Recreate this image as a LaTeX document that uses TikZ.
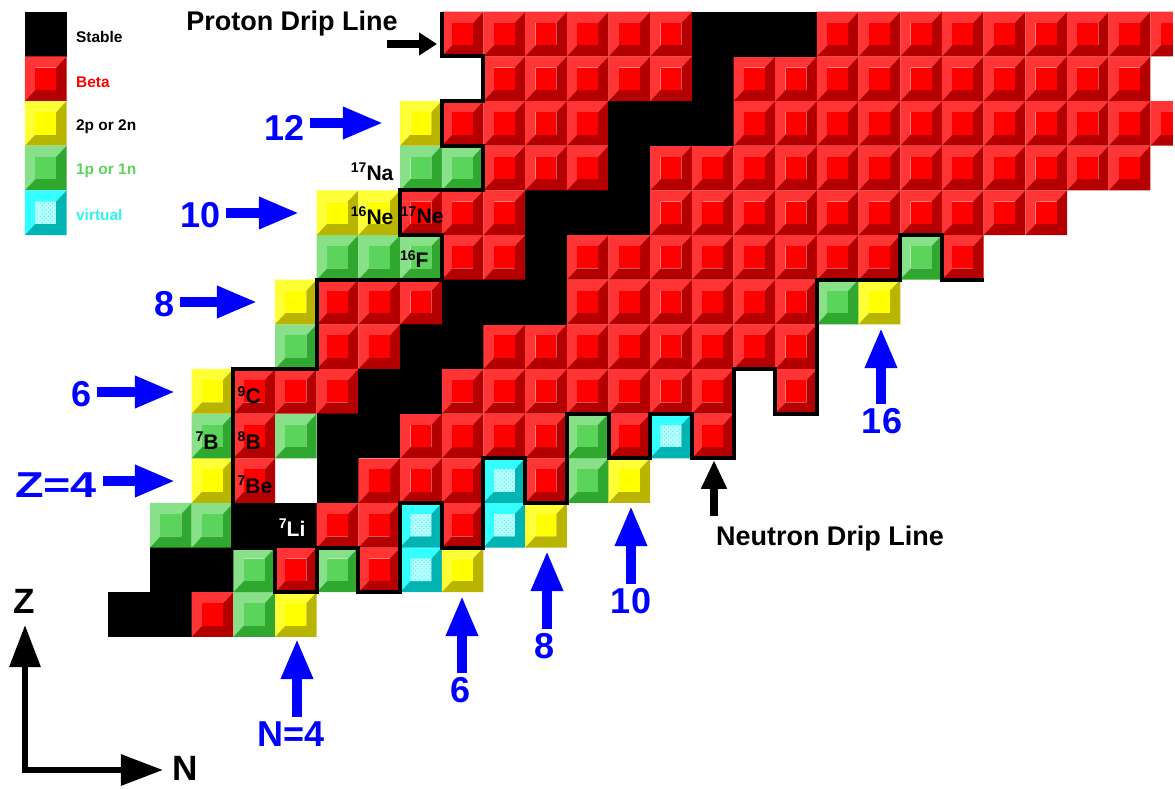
\documentclass[tikz,border=0pt]{standalone}
\usepackage{fontspec}
\setmainfont{Liberation Sans}
\usetikzlibrary{arrows.meta,patterns}

% cell colours: face, light bevel, dark bevel
\definecolor{betafc}{HTML}{FF0000}
\definecolor{betalt}{HTML}{FF3535}
\definecolor{betadk}{HTML}{B40000}
\definecolor{twofc}{HTML}{FFFF00}
\definecolor{twolt}{HTML}{FFFF35}
\definecolor{twodk}{HTML}{B8B400}
\definecolor{onefc}{HTML}{5AD45A}
\definecolor{onelt}{HTML}{88E088}
\definecolor{onedk}{HTML}{30A830}
\definecolor{virfc}{HTML}{BFFFFF}
\definecolor{virlt}{HTML}{33FFFF}
\definecolor{virdk}{HTML}{00B4B4}
\definecolor{magicblue}{HTML}{0000FF}

% bevelled cell: column, row, colour prefix
\newcommand{\decaycell}[3]{%
  \fill[#3lt] (#1,#2) -- (#1,#2+1) -- (#1+1,#2+1) -- (#1+0.75,#2+0.75) -- (#1+0.25,#2+0.75) -- (#1+0.25,#2+0.25) -- cycle;
  \fill[#3dk] (#1,#2) -- (#1+1,#2) -- (#1+1,#2+1) -- (#1+0.75,#2+0.75) -- (#1+0.75,#2+0.25) -- (#1+0.25,#2+0.25) -- cycle;
  \fill[#3fc] (#1+0.25,#2+0.25) rectangle (#1+0.75,#2+0.75);}
\newcommand{\virtcell}[2]{%
  \decaycell{#1}{#2}{vir}
  \fill[pattern=crosshatch dots, pattern color=virlt] (#1+0.25,#2+0.25) rectangle (#1+0.75,#2+0.75);}
\newcommand{\stablecell}[2]{\fill[black] (#1-0.005,#2-0.005) rectangle (#1+1.005,#2+1.005);}
% isotope label with mass number
\newcommand{\isolbl}[2]{\raisebox{5.5pt}{\fontsize{10pt}{10pt}\selectfont #1}#2}

\begin{document}
\begin{tikzpicture}[x=0.025cm, y=-0.025cm,
    lgd/.style={font=\bfseries\fontsize{11pt}{13pt}\selectfont, anchor=west, inner sep=0pt},
    iso/.style={font=\bfseries\fontsize{15pt}{17pt}\selectfont, inner sep=0pt},
    magic/.style={font=\bfseries\fontsize{25.6pt}{28pt}\selectfont, text=magicblue, inner sep=3pt},
    dripl/.style={font=\bfseries\fontsize{19.2pt}{22pt}\selectfont, inner sep=0pt},
    axlbl/.style={font=\bfseries\fontsize{25pt}{28pt}\selectfont, inner sep=0pt},
    blarrow/.style={draw=magicblue, line width=0.23cm, -{Triangle[length=1cm, width=0.75cm]}},
    ndarrow/.style={draw=black, line width=0.2cm, -{Triangle[length=0.72cm, width=0.6cm]}},
    pdarrow/.style={draw=black, line width=0.22cm, -{Triangle[length=0.45cm, width=0.55cm]}},
    axarrow/.style={draw=black, line width=0.15cm, {Triangle[length=1.05cm, width=0.75cm]}-{Triangle[length=1.05cm, width=0.75cm]}},
    drip/.style={draw=black, line width=0.1cm}]
    \useasboundingbox (0,0) rectangle (1175,788);

    % chart of nuclides, one unit per cell
    \begin{scope}[xshift=2.7075cm, yshift=-15.9175cm, x=1.04175cm, y=1.116cm]
    \clip (-3,-1) rectangle (25.54,14.5);

    % Legend
    \stablecell{-2}{13}
    \decaycell{-2}{12}{beta}
    \decaycell{-2}{11}{two}
    \decaycell{-2}{10}{one}
    \virtcell{-2}{9}
    \node[lgd] (lstable) at (-0.78,13.43) {Stable};
    \node[lgd, text=betafc] (lbeta) at (-0.78,12.43) {Beta};
    \node[lgd] (ltwo) at (-0.78,11.42) {2p or 2n};
    \node[lgd, text=onefc] (lone) at (-0.78,10.43) {1p or 1n};
    \node[lgd, text=virlt!95!black] (lvirt) at (-0.78,9.44) {virtual};

    % Z=1
    \stablecell{0}{0} \stablecell{1}{0}
    \decaycell{2}{0}{beta} \decaycell{3}{0}{one} \decaycell{4}{0}{two}
    % Z=2
    \stablecell{1}{1} \stablecell{2}{1}
    \decaycell{3}{1}{one} \decaycell{4}{1}{beta} \decaycell{5}{1}{one} \decaycell{6}{1}{beta}
    \virtcell{7}{1} \decaycell{8}{1}{two}
    % Z=3
    \decaycell{1}{2}{one} \decaycell{2}{2}{one}
    \stablecell{3}{2} \stablecell{4}{2}
    \decaycell{5}{2}{beta} \decaycell{6}{2}{beta} \virtcell{7}{2}
    \decaycell{8}{2}{beta} \virtcell{9}{2} \decaycell{10}{2}{two}
    % Z=4
    \decaycell{2}{3}{two} \decaycell{3}{3}{beta} \stablecell{5}{3}
    \foreach \n in {6,7,8} {\decaycell{\n}{3}{beta}}
    \virtcell{9}{3} \decaycell{10}{3}{beta} \decaycell{11}{3}{one} \decaycell{12}{3}{two}
    % Z=5
    \decaycell{2}{4}{one} \decaycell{3}{4}{beta} \decaycell{4}{4}{one}
    \stablecell{5}{4} \stablecell{6}{4}
    \foreach \n in {7,...,10} {\decaycell{\n}{4}{beta}}
    \decaycell{11}{4}{one} \decaycell{12}{4}{beta} \virtcell{13}{4} \decaycell{14}{4}{beta}
    % Z=6
    \decaycell{2}{5}{two}
    \foreach \n in {3,4,5} {\decaycell{\n}{5}{beta}}
    \stablecell{6}{5} \stablecell{7}{5}
    \foreach \n in {8,...,14} {\decaycell{\n}{5}{beta}}
    \decaycell{16}{5}{beta}
    % Z=7
    \decaycell{4}{6}{one} \decaycell{5}{6}{beta} \decaycell{6}{6}{beta}
    \stablecell{7}{6} \stablecell{8}{6}
    \foreach \n in {9,...,16} {\decaycell{\n}{6}{beta}}
    % Z=8
    \decaycell{4}{7}{two}
    \foreach \n in {5,6,7} {\decaycell{\n}{7}{beta}}
    \foreach \n in {8,9,10} {\stablecell{\n}{7}}
    \foreach \n in {11,...,16} {\decaycell{\n}{7}{beta}}
    \decaycell{17}{7}{one} \decaycell{18}{7}{two}
    % Z=9
    \foreach \n in {5,6,7} {\decaycell{\n}{8}{one}}
    \decaycell{8}{8}{beta} \decaycell{9}{8}{beta} \stablecell{10}{8}
    \foreach \n in {11,...,18} {\decaycell{\n}{8}{beta}}
    \decaycell{19}{8}{one} \decaycell{20}{8}{beta}
    % Z=10
    \decaycell{5}{9}{two} \decaycell{6}{9}{two}
    \foreach \n in {7,8,9} {\decaycell{\n}{9}{beta}}
    \foreach \n in {10,11,12} {\stablecell{\n}{9}}
    \foreach \n in {13,...,22} {\decaycell{\n}{9}{beta}}
    % Z=11
    \decaycell{7}{10}{one} \decaycell{8}{10}{one}
    \foreach \n in {9,10,11} {\decaycell{\n}{10}{beta}}
    \stablecell{12}{10}
    \foreach \n in {13,...,24} {\decaycell{\n}{10}{beta}}
    % Z=12
    \decaycell{7}{11}{two}
    \foreach \n in {8,...,11} {\decaycell{\n}{11}{beta}}
    \foreach \n in {12,13,14} {\stablecell{\n}{11}}
    \foreach \n in {15,...,25} {\decaycell{\n}{11}{beta}}
    % Z=13
    \foreach \n in {9,...,13} {\decaycell{\n}{12}{beta}}
    \stablecell{14}{12}
    \foreach \n in {15,...,24} {\decaycell{\n}{12}{beta}}
    % Z=14
    \foreach \n in {8,...,13} {\decaycell{\n}{13}{beta}}
    \foreach \n in {14,15,16} {\stablecell{\n}{13}}
    \foreach \n in {17,...,25} {\decaycell{\n}{13}{beta}}

    % drip lines
    \draw[drip] (8,14) -- (8,13) -- (9,13) -- (9,12) -- (8,12) -- (8,11) -- (9,11) -- (9,10)
      -- (7,10) -- (7,9) -- (8,9) -- (8,8) -- (5,8) -- (5,6) -- (3,6) -- (3,2) -- (4,2)
      -- (4,1) -- (5,1) -- (5,2) -- (6,2) -- (6,1) -- (7,1) -- (7,3) -- (8,3) -- (8,2)
      -- (9,2) -- (9,4) -- (10,4) -- (10,3) -- (11,3) -- (11,5) -- (12,5) -- (12,4)
      -- (13,4) -- (13,5) -- (14,5) -- (14,4) -- (15,4) -- (15,6) -- (16,6) -- (16,5)
      -- (17,5) -- (17,8) -- (19,8) -- (19,9) -- (20,9) -- (20,8) -- (21,8);

    % isotope labels
    \node[iso] (c9) at (3.38,5.41) {\isolbl{9}{C}};
    \node[iso] (b7) at (2.37,4.40) {\isolbl{7}{B}};
    \node[iso] (b8) at (3.38,4.40) {\isolbl{8}{B}};
    \node[iso] (be7) at (3.52,3.40) {\isolbl{7}{Be}};
    \node[iso, text=white] (li7) at (4.41,2.44) {\isolbl{7}{Li}};
    \node[iso] (na17) at (6.33,10.41) {\isolbl{17}{Na}};
    \node[iso] (ne16) at (6.33,9.44) {\isolbl{16}{Ne}};
    \node[iso] (ne17) at (7.53,9.44) {\isolbl{17}{Ne}};
    \node[iso] (f16) at (7.34,8.46) {\isolbl{16}{F}};
    \end{scope}

    % magic numbers, proton side
    \node[magic] (z12) at (285,128) {12};
    \node[magic] (z10) at (201,215) {10};
    \node[magic] (z8) at (165,304) {8};
    \node[magic] (z6) at (82,394) {6};
    \node[magic, xscale=1.3] (z4) at (56,485) {Z=4};
    \coordinate (z12tip) at (383,123);
    \coordinate (z10tip) at (299,213);
    \coordinate (z8tip) at (257,302);
    \coordinate (z6tip) at (175,392);
    \coordinate (z4tip) at (175,481);
    \foreach \m in {z12,z10,z8,z6,z4}
        \draw[blarrow] (\m.east |- \m tip) -- (\m tip);

    % magic numbers, neutron side
    \node[magic] (n4) at (291,734) {N=4};
    \node[magic] (n6) at (461,690) {6};
    \node[magic] (n8) at (545,646) {8};
    \node[magic] (n10) at (631,601) {10};
    \node[magic] (n16) at (882,421) {16};
    \coordinate (n4tip) at (297,639);
    \coordinate (n6tip) at (462,596);
    \coordinate (n8tip) at (547,551);
    \coordinate (n10tip) at (631,506);
    \coordinate (n16tip) at (881,328);
    \foreach \m in {n4,n6,n8,n10,n16}
        \draw[blarrow] (\m tip |- \m.north) -- (\m tip);

    % drip line labels
    \node[dripl] (pdl) at (292,24) {Proton Drip Line};
    \coordinate (pdltip) at (437,44);
    \draw[pdarrow] ([xshift=-0.275cm]pdl.east |- pdltip) -- (pdltip);
    \node[dripl] (ndl) at (830,539) {Neutron Drip Line};
    \coordinate (ndltip) at (714,460);
    \draw[ndarrow] ([yshift=0.25cm]ndltip |- ndl.north) -- (ndltip);

    % axes
    \coordinate (axo) at (25,770);
    \coordinate (ztip) at (25,625);
    \coordinate (ntip) at (163,770);
    \draw[axarrow] (ztip) -- (axo) -- (ntip);
    \node[axlbl] (zlab) at (24,601) {Z};
    \node[axlbl] (nlab) at (185,768) {N};
\end{tikzpicture}
\end{document}
